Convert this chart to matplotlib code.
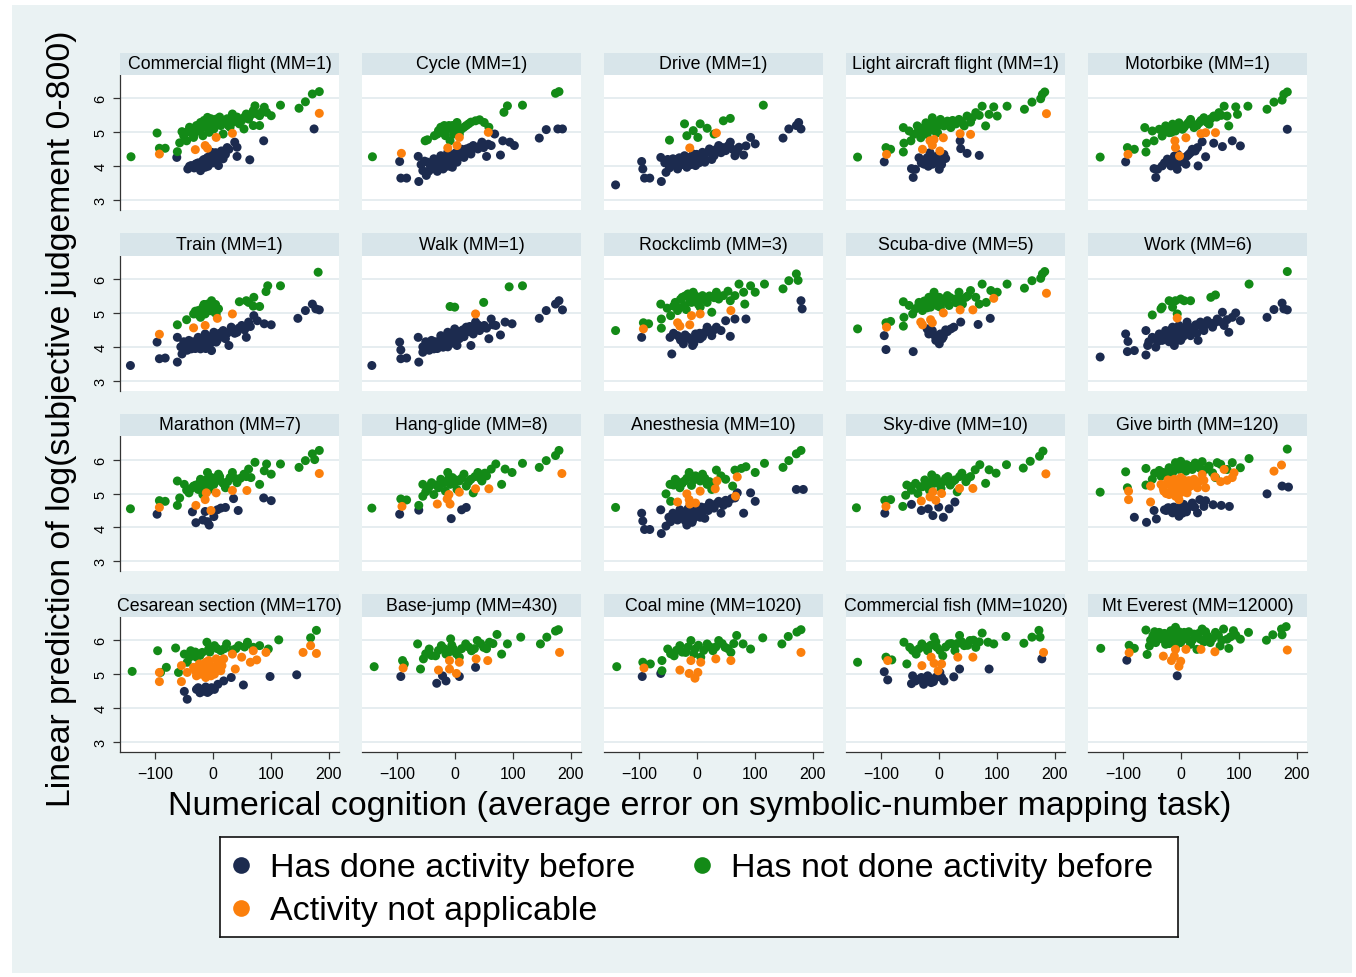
import matplotlib
matplotlib.use("Agg")
import matplotlib.pyplot as plt
from matplotlib.patches import Rectangle
from matplotlib.lines import Line2D

plt.rcParams['font.family'] = ['Liberation Sans', 'DejaVu Sans']

# ---------------- DATA (x = numerical cognition error, y = linear prediction) ----------------
titles = ["Commercial flight (MM=1)", "Cycle (MM=1)", "Drive (MM=1)", "Light aircraft flight (MM=1)",
          "Motorbike (MM=1)", "Train (MM=1)", "Walk (MM=1)", "Rockclimb (MM=3)", "Scuba-dive (MM=5)",
          "Work (MM=6)", "Marathon (MM=7)", "Hang-glide (MM=8)", "Anesthesia (MM=10)", "Sky-dive (MM=10)",
          "Give birth (MM=120)", "Cesarean section (MM=170)", "Base-jump (MM=430)", "Coal mine (MM=1020)",
          "Commercial fish (MM=1020)", "Mt Everest (MM=12000)"]
legend_labels = ["Has done activity before", "Has not done activity before", "Activity not applicable"]
x_ticks = [-100, 0, 100, 200]
y_ticks = [3, 4, 5, 6]

# 1 Commercial flight
cf_done = [(-62,4.26),(-43,3.92),(-37,4.02),(-29,4.07),(-21,3.87),(-17,4.17),(-13,3.97),(-9,4.26),(-6,4.07),(-2,4.41),
           (2,4.17),(6,4.31),(14,4.41),(18,4.22),(10,4.02),(38,4.71),(42,4.56),(42,4.29),(64,4.19),(88,4.75),(175,5.10),
           (-25,4.1),(-10,4.15),(0,4.3),(5,4.4),(-15,4.2),(10,4.35),(20,4.45),(25,4.55),
           (-40,4.0),(-32,3.95),(-27,4.0),(-20,4.05),(-12,4.1),(-5,4.2),(3,4.25),(8,4.2),(12,4.3),(15,4.45),(-3,4.35),
           (-18,3.95),(-8,4.0),(0,4.1),(22,4.35),(28,4.5)]
cf_not = [(-141,4.28),(-96,4.98),(-92,4.53),(-82,4.53),(-61,4.43),(-57,4.69),(-53,5.02),(-45,4.75),(-37,5.05),(-33,4.85),
          (-25,5.10),(-21,5.29),(-17,4.90),(-13,5.15),(-9,5.44),(-6,5.0),(-2,5.25),(2,5.10),(6,5.39),(14,5.2),(18,4.95),
          (22,5.29),(30,5.15),(34,5.54),(38,5.39),(46,5.25),(54,5.10),(58,5.54),(62,5.39),(70,5.64),(73,5.78),(81,5.49),
          (89,5.74),(93,5.59),(101,5.49),(117,5.80),(70,5.2),(81,5.2),(149,5.71),(160,5.90),(172,6.13),(184,6.20),
          (-45,5.0),(-40,5.15),(-30,5.0),(-28,5.2),(-20,5.1),(-15,5.35),(-10,5.2),(-5,5.15),(-3,5.4),(0,5.3),(5,5.2),
          (10,5.3),(12,5.45),(16,5.35),(25,5.4),(27,5.2),(35,5.3),(42,5.45),(50,5.35),(55,5.45),(65,5.5),(75,5.55),
          (85,5.6),(-50,4.9),(-35,4.95)]
cf_na = [(-92,4.36),(-30,4.49),(-13,4.61),(-9,4.53),(6,4.85),(34,4.97),(184,5.56)]

# 2 Cycle
cy_done = [(-95,4.14),(-93,3.65),(-83,3.65),(-62,3.55),(-63,4.29),(-55,3.87),(-49,3.73),(-47,4.12),(-40,3.92),(-36,4.22),
           (-30,4.02),(-24,4.31),(-20,3.92),(-16,4.12),(-12,4.41),(-8,4.22),(-4,3.97),(0,4.31),(4,4.12),(8,4.41),(16,4.26),
           (20,4.51),(28,4.36),(32,4.61),(40,4.51),(47,4.71),(55,4.29),(63,4.61),(69,4.95),(79,4.33),(83,4.75),(95,4.71),
           (103,4.61),(146,4.83),(158,5.08),(178,5.10),(186,5.10),
           (-58,4.05),(-52,4.15),(-45,3.85),(-42,4.0),(-38,4.1),(-33,4.15),(-28,3.95),(-26,4.2),(-22,4.1),(-18,4.25),
           (-14,4.0),(-10,4.3),(-6,4.1),(-2,4.2),(2,4.4),(6,4.25),(10,4.3),(12,4.5),(18,4.4),(24,4.45),(26,4.55),
           (35,4.55),(44,4.6),(50,4.55),(58,4.65),(-30,3.85),(-8,4.0),(-20,4.0)]
cy_not = [(-142,4.28),(-51,4.75),(-47,4.78),(-30,4.95),(-24,5.15),(-16,4.90),(-12,5.10),(-4,5.2),(0,5.05),(4,5.29),
          (8,4.95),(-8,4.75),(16,5.15),(24,5.25),(36,5.34),(43,5.37),(51,5.29),(59,5.15),(85,5.59),(91,5.78),(117,5.80),
          (174,6.15),(180,6.20),
          (-35,4.9),(-28,5.05),(-20,5.0),(-10,5.2),(-2,4.95),(5,5.1),(12,5.1),(20,5.2),(28,5.3),(-18,5.2)]
cy_na = [(-92,4.38),(-12,4.54),(4,4.61),(8,4.85),(58,5.0)]

# 3 Drive
dr_done = [(-140,3.45),(-95,4.14),(-93,3.92),(-90,3.65),(-81,3.65),(-61,3.55),(-62,4.26),(-53,3.82),(-45,4.02),(-41,4.22),
           (-33,3.92),(-29,4.12),(-21,4.31),(-17,3.97),(-12,4.17),(-6,4.36),(-2,4.02),(2,4.22),(10,4.41),(14,4.12),(22,4.51),
           (30,4.31),(38,4.61),(50,4.46),(58,4.71),(66,4.31),(73,4.56),(81,4.33),(93,4.85),(101,4.66),(149,4.83),(159,5.10),
           (172,5.2),(176,5.29),(180,5.10),
           (-55,4.1),(-50,4.2),(-47,3.95),(-38,4.05),(-35,4.2),(-30,4.25),(-25,4.05),(-20,4.15),(-15,4.25),(-10,4.05),
           (-8,4.3),(-4,4.2),(0,4.35),(4,4.1),(6,4.3),(12,4.25),(18,4.4),(25,4.45),(26,4.2),(34,4.5),(42,4.4),(45,4.55),
           (54,4.6),(62,4.5),(70,4.45),(85,4.6)]
dr_not = [(-47,4.77),(-21,5.25),(-17,4.90),(-6,5.05),(2,4.85),(6,5.25),(18,5.12),(30,4.95),(46,5.34),(58,5.41),(115,5.80)]
dr_na = [(-12,4.54),(34,4.98)]

# 4 Light aircraft flight
la_done = [(-94,4.13),(-47,3.93),(-44,3.67),(-40,3.91),(-34,4.25),(-25,4.06),(-20,4.25),(-15,4.40),(-11,4.06),(-5,4.21),
           (1,3.91),(3,4.11),(9,4.35),(12,4.23),(37,4.75),(38,4.52),(49,4.38),(70,4.32),
           (-30,4.1),(-22,4.15),(-18,4.0),(-8,4.1),(-2,4.3),(5,4.05),(7,4.2),(-12,4.3)]
la_not = [(-140,4.27),(-91,4.55),(-83,4.50),(-61,4.42),(-60,4.68),(-61,5.14),(-51,5.04),(-48,4.75),(-43,4.94),(-37,5.19),
          (-31,4.84),(-28,5.04),(-22,5.28),(-20,4.94),(-14,5.14),(-11,5.43),(-5,5.24),(-2,4.99),(3,5.38),(9,5.19),(15,5.33),
          (21,5.14),(26,5.28),(35,5.38),(44,5.19),(49,5.48),(58,5.43),(64,5.58),(75,5.77),(81,5.19),(87,5.53),(95,5.75),
          (101,5.48),(118,5.77),(148,5.68),(161,5.89),(176,5.99),(179,6.12),(183,6.19),
          (-35,5.05),(-25,5.15),(-18,5.1),(-10,5.25),(-8,5.05),(0,5.2),(5,5.3),(12,5.25),(18,5.2),(24,5.35),(30,5.25),
          (40,5.3),(55,5.3),(70,5.5)]
la_na = [(-90,4.35),(-28,4.50),(-15,4.75),(-11,4.62),(-8,4.79),(2,4.45),(8,4.84),(37,4.96),(55,4.94),(186,5.55)]

# 5 Motorbike
mb_done = [(-95,4.13),(-46,3.93),(-43,3.67),(-40,3.91),(-32,4.01),(-23,4.21),(-17,4.01),(-11,4.30),(-6,3.91),(-3,4.11),
           (3,4.25),(9,4.06),(14,4.35),(20,4.50),(29,4.55),(30,4.01),(37,4.72),(43,4.28),(57,4.68),(72,4.58),(89,4.75),
           (103,4.60),(184,5.09),
           (-28,4.1),(-20,4.15),(-14,4.1),(-8,4.2),(0,4.15),(6,4.2),(11,4.3),(17,4.4),(25,4.45),(-5,4.35)]
mb_not = [(-139,4.27),(-92,4.55),(-80,4.50),(-60,4.42),(-59,4.68),(-62,5.14),(-49,5.04),(-46,4.75),(-37,5.09),(-32,4.89),
          (-26,5.19),(-20,4.99),(-14,5.24),(-9,5.04),(-3,5.28),(3,5.09),(11,5.24),(17,5.38),(23,5.14),(32,5.28),(40,5.43),
          (49,5.24),(57,5.48),(66,5.58),(75,5.77),(83,5.19),(80,5.48),(95,5.75),(98,5.53),(116,5.77),(149,5.68),(161,5.89),
          (175,5.95),(178,6.12),(184,6.19),
          (-30,5.05),(-22,5.1),(-16,5.0),(-6,5.15),(0,5.2),(6,5.15),(14,5.3),(20,5.25),(28,5.2),(35,5.35),(45,5.3),
          (52,5.4),(62,5.45),(70,5.5)]
mb_na = [(-91,4.35),(-10,4.75),(-9,4.55),(-2,4.30),(9,4.84),(35,4.96),(43,4.99),(60,4.99)]

# 6 Train
tr_done = [(-142,3.45),(-96,4.14),(-92,3.65),(-82,3.67),(-61,3.55),(-61,4.28),(-53,3.79),(-47,4.04),(-41,4.19),(-37,3.94),
           (-29,4.09),(-25,4.28),(-21,3.94),(-17,4.14),(-13,4.38),(-9,4.04),(-6,4.24),(-2,3.89),(2,4.43),(6,4.14),(10,4.33),
           (18,4.48),(22,4.24),(28,4.04),(32,4.58),(42,4.43),(50,4.63),(58,4.28),(62,4.73),(71,4.92),(77,4.77),(89,4.68),
           (101,4.65),(147,4.84),(160,5.07),(172,5.26),(178,5.12),(184,5.09),
           (-55,4.0),(-50,4.15),(-44,3.9),(-39,4.05),(-33,4.15),(-27,4.0),(-23,4.2),(-19,4.05),(-15,4.25),(-11,4.15),
           (-7,4.3),(-4,4.1),(0,4.25),(4,4.3),(8,4.2),(12,4.4),(15,4.3),(20,4.35),(25,4.4),(35,4.5),(38,4.4),(45,4.55),
           (55,4.5),(65,4.6),(-30,3.95),(-12,3.95)]
tr_not = [(-61,4.65),(-45,4.80),(-33,4.97),(-25,5.07),(-21,4.87),(-17,5.17),(-13,4.97),(-9,5.26),(-6,5.07),(-2,5.36),
          (2,5.17),(6,4.97),(10,5.12),(46,5.33),(58,5.36),(62,5.31),(70,5.20),(71,5.46),(81,5.19),(92,5.63),(95,5.80),
          (117,5.80),(182,6.20),
          (-30,5.05),(-20,5.05),(-15,5.25),(-10,5.1),(-5,5.2),(0,5.05),(5,5.25),(-25,4.95)]
tr_na = [(-92,4.37),(-33,4.56),(-13,4.63),(8,4.84),(34,4.97)]

# 7 Walk
wk_done = [(-143,3.45),(-95,4.14),(-93,3.91),(-93,3.65),(-83,3.67),(-62,3.55),(-63,4.28),(-55,3.84),(-47,4.04),(-40,4.19),
           (-36,3.94),(-30,4.14),(-24,4.33),(-20,3.99),(-16,4.19),(-12,4.43),(-8,4.09),(-4,4.28),(0,4.53),(4,4.04),(8,4.24),
           (12,4.43),(20,4.58),(28,4.04),(32,4.38),(36,4.73),(43,4.48),(51,4.63),(59,4.24),(63,4.82),(71,4.63),(79,4.35),
           (87,4.73),(99,4.68),(146,4.84),(158,5.07),(174,5.26),(180,5.36),(186,5.09),
           (-55,4.0),(-50,4.15),(-44,3.9),(-38,4.05),(-33,4.15),(-27,4.0),(-22,4.2),(-18,4.05),(-14,4.3),(-10,4.2),
           (-6,4.35),(-2,4.15),(2,4.3),(6,4.45),(10,4.35),(14,4.5),(16,4.3),(24,4.45),(26,4.6),(38,4.55),(40,4.65),
           (48,4.6),(55,4.55),(66,4.65),(-30,3.95),(-12,4.0)]
wk_not = [(-8,5.19),(0,5.17),(50,5.31),(94,5.77),(117,5.80)]
wk_na = [(36,4.97)]

# 8 Rockclimb
rc_done = [(-95,4.28),(-43,3.79),(-46,4.28),(-33,4.33),(-23,4.09),(-15,4.28),(-7,4.04),(-2,4.38),(6,4.24),(14,4.43),
           (18,4.58),(26,4.33),(34,4.58),(42,4.48),(50,4.77),(58,4.31),(66,4.82),(85,4.82),(180,5.36),(182,5.12),
           (-40,4.4),(-28,4.2),(-20,4.35),(-10,4.2),(0,4.25),(5,4.4),(10,4.3),(20,4.45),(30,4.5),(-5,4.1)]
rc_not = [(-140,4.48),(-92,4.71),(-83,4.68),(-61,4.55),(-61,4.82),(-62,5.26),(-51,5.14),(-45,4.92),(-37,5.31),(-33,5.07),
          (-25,5.46),(-21,5.22),(-15,5.56),(-9,5.31),(-6,5.61),(1,5.41),(6,5.17),(10,5.51),(18,5.31),(26,5.02),(34,5.61),
          (38,5.41),(46,5.51),(54,5.64),(58,5.36),(66,5.51),(73,5.85),(81,5.61),(83,5.26),(93,5.80),(101,5.61),(117,5.85),
          (149,5.71),(159,5.95),(172,6.15),(175,5.96),
          (-30,5.15),(-28,5.4),(-20,5.5),(-18,5.1),(-12,5.4),(-4,5.35),(-2,5.5),(3,5.25),(8,5.4),(14,5.45),(22,5.5),
          (30,5.45),(-40,5.2)]
rc_na = [(-92,4.53),(-33,4.71),(-29,4.61),(-12,4.65),(-9,4.92),(6,4.97),(59,5.07)]

# 9 Scuba-dive
sc_done = [(-94,4.33),(-91,3.92),(-44,3.86),(-20,4.53),(-17,4.38),(-11,4.48),(-5,4.19),(1,4.09),(3,4.38),(6,4.24),
           (15,4.45),(21,4.53),(26,4.58),(38,4.73),(68,4.66),(89,4.84),
           (-15,4.45),(-8,4.35),(-2,4.3),(8,4.3),(12,4.5),(-18,4.5)]
sc_not = [(-140,4.53),(-91,4.71),(-83,4.75),(-61,4.61),(-60,4.87),(-61,5.33),(-51,5.22),(-45,4.97),(-40,5.12),(-34,5.31),
          (-28,5.07),(-22,5.26),(-17,5.46),(-14,5.17),(-8,5.61),(-5,5.31),(1,5.46),(3,5.17),(9,5.36),(15,5.51),(18,5.22),
          (29,5.41),(35,5.61),(41,5.26),(47,5.46),(55,5.66),(64,5.46),(70,5.26),(75,5.85),(82,5.31),(90,5.66),(101,5.61),
          (118,5.85),(148,5.73),(161,5.95),(176,6.02),(179,6.15),(183,6.22),
          (-25,5.35),(-20,5.15),(-12,5.35),(-10,5.5),(-2,5.4),(-1,5.2),(5,5.3),(12,5.4),(20,5.45),(30,5.3),(40,5.4),
          (50,5.5),(-35,5.2)]
sc_na = [(-90,4.58),(-31,4.73),(-28,4.65),(-14,4.80),(-11,4.71),(8,5.0),(37,5.09),(59,5.09),(95,5.43),(186,5.58)]

# 10 Work
wo_done = [(-139,3.70),(-95,4.38),(-91,4.16),(-92,3.86),(-80,3.89),(-60,3.76),(-60,4.48),(-57,4.04),(-49,4.28),(-43,3.99),
           (-37,4.38),(-32,4.19),(-26,4.48),(-20,4.24),(-14,4.58),(-11,4.04),(-9,4.38),(-3,4.63),(0,4.19),(6,4.48),(11,4.73),
           (17,4.33),(23,4.58),(30,4.19),(34,4.73),(40,4.48),(46,4.77),(55,4.58),(63,4.82),(72,5.02),(75,4.63),(83,4.43),
           (89,4.87),(95,5.0),(103,4.77),(149,4.87),(161,5.10),(175,5.29),(178,5.12),(184,5.09),
           (-55,4.15),(-45,4.25),(-40,4.15),(-35,4.3),(-28,4.3),(-24,4.4),(-18,4.35),(-16,4.5),(-12,4.3),(-7,4.5),
           (-5,4.25),(-1,4.4),(3,4.55),(4,4.3),(9,4.45),(13,4.6),(15,4.4),(20,4.5),(26,4.65),(28,4.4),(36,4.6),(43,4.65),
           (50,4.7),(58,4.7),(67,4.75),(80,4.8),(-10,4.15),(-20,4.15)]
wo_not = [(-49,4.94),(-34,5.12),(-32,5.17),(-20,5.36),(-14,5.17),(-9,5.36),(-6,4.97),(0,5.41),(6,5.36),(17,5.36),
          (52,5.46),(60,5.53),(118,5.85),(184,6.22)]
wo_na = [(-6,4.85)]

# 11 Marathon
ma_done = [(-96,4.39),(-35,4.46),(-29,4.14),(-17,4.22),(-13,4.47),(-9,4.17),(-6,4.07),(2,4.32),(8,4.52),(14,4.57),
           (22,4.59),(36,4.85),(44,4.50),(88,4.87),(101,4.79)]
ma_not = [(-142,4.55),(-92,4.79),(-82,4.77),(-61,4.65),(-61,5.37),(-57,4.87),(-49,5.27),(-41,5.02),(-33,5.22),(-25,5.12),
          (-21,5.42),(-17,4.97),(-13,5.27),(-9,5.62),(-6,5.12),(-2,5.47),(2,5.27),(10,5.57),(14,5.37),(22,5.17),(30,5.47),
          (34,5.62),(42,5.32),(54,5.57),(62,5.72),(66,5.47),(73,5.92),(81,5.27),(89,5.67),(93,5.87),(101,5.57),(117,5.87),
          (149,5.77),(160,5.97),(172,6.17),(176,6.0),(184,6.27),
          (-45,5.1),(-37,5.15),(-29,5.25),(-23,5.3),(-15,5.15),(-11,5.4),(-4,5.3),(0,5.35),(6,5.4),(12,5.5),(18,5.3),
          (26,5.35),(38,5.45),(48,5.45),(58,5.5)]
ma_na = [(-92,4.59),(-29,4.65),(-13,4.82),(-11,5.02),(-3,4.50),(6,5.02),(34,5.09),(59,5.09),(184,5.59)]

# 12 Hang-glide
hg_done = [(-95,4.39),(-62,4.51),(-6,4.26),(12,4.52),(20,4.59)]
hg_not = [(-143,4.57),(-93,4.84),(-83,4.81),(-62,4.65),(-55,4.92),(-55,5.27),(-47,5.12),(-40,5.32),(-36,4.97),(-28,5.17),
          (-24,5.42),(-16,5.07),(-12,5.62),(-8,5.27),(-4,5.47),(4,5.12),(8,5.37),(16,5.57),(20,5.22),(28,5.42),(32,5.02),
          (40,5.62),(47,5.37),(55,5.52),(63,5.72),(71,5.87),(81,5.27),(87,5.72),(99,5.62),(117,5.89),(146,5.77),(158,5.97),
          (174,6.12),(180,6.27),
          (-50,5.05),(-44,5.2),(-32,5.25),(-20,5.3),(-14,5.35),(-10,5.45),(-2,5.3),(2,5.4),(12,5.45),(24,5.35),(35,5.5),
          (44,5.45),(52,5.6)]
hg_na = [(-91,4.62),(-30,4.69),(-13,4.84),(-10,4.97),(-8,4.69),(8,5.04),(36,5.14),(59,5.14),(185,5.59)]

# 13 Anesthesia
an_done = [(-95,4.42),(-93,4.19),(-90,3.94),(-81,3.94),(-61,3.82),(-62,4.52),(-53,4.04),(-45,4.17),(-41,4.42),(-33,4.22),
           (-29,4.52),(-21,4.32),(-17,4.07),(-12,4.47),(-7,4.22),(-2,4.62),(2,4.37),(10,4.57),(14,4.27),(22,4.72),(30,4.57),
           (38,4.77),(42,4.42),(54,4.72),(66,4.87),(70,5.02),(81,4.42),(93,5.02),(101,4.77),(172,5.12),(184,5.12),
           (-48,4.3),(-38,4.3),(-30,4.35),(-25,4.42),(-18,4.4),(-14,4.25),(-10,4.35),(-5,4.45),(-4,4.3),(0,4.5),
           (4,4.45),(6,4.3),(8,4.6),(12,4.5),(17,4.6),(20,4.5),(26,4.65),(34,4.7),(46,4.65),(50,4.8),(60,4.85),
           (-20,4.2),(-8,4.15),(-15,4.55)]
an_not = [(-140,4.59),(-53,4.99),(-45,4.77),(-46,5.27),(-37,5.42),(-29,5.17),(-21,5.37),(-13,5.62),(-9,5.24),(-2,5.52),
          (6,5.37),(10,5.57),(18,5.27),(26,5.12),(34,5.69),(42,5.52),(50,5.42),(62,5.22),(66,5.69),(77,5.74),(85,5.79),
          (101,5.62),(117,5.89),(149,5.77),(159,5.97),(172,6.17),(180,6.27),
          (-40,5.25),(-33,5.35),(-25,5.3),(-17,5.45),(-5,5.4),(2,5.45),(14,5.45),(22,5.35),(30,5.25)]
an_na = [(-33,4.75),(-17,4.99),(-13,4.82),(-12,4.69),(-2,4.72),(6,5.07),(32,5.14),(35,5.37),(70,5.49),(67,4.92)]

# 14 Sky-dive
sd_done = [(-93,4.42),(-47,4.68),(-30,4.50),(-18,4.55),(-10,4.35),(0,4.60),(8,4.30),(18,4.55),(28,4.75)]
sd_not = [(-142,4.58),(-93,4.80),(-83,4.82),(-62,4.62),(-57,4.95),(-55,5.25),(-47,5.10),(-40,5.30),(-36,5.0),(-28,5.2),
          (-24,5.4),(-16,5.1),(-12,5.55),(-8,5.3),(-4,5.45),(4,5.15),(8,5.35),(16,5.5),(20,5.25),(28,5.4),(32,5.05),
          (40,5.6),(47,5.35),(55,5.5),(63,5.7),(71,5.85),(81,5.3),(87,5.7),(99,5.6),(117,5.85),(146,5.75),(158,5.95),
          (174,6.1),(180,6.25),
          (-48,5.2),(-32,5.2),(-20,5.3),(-10,5.4),(0,5.3),(12,5.45),(24,5.35),(36,5.5),(50,5.45)]
sd_na = [(-91,4.62),(-30,4.78),(-15,4.9),(-10,5.05),(-5,4.8),(5,5.0),(36,5.15),(59,5.15),(185,5.58)]

# 15 Give birth
gb_done = [(-80,4.30),(-59,4.15),(-46,4.50),(-42,4.25),(-28,4.52),(-20,4.57),(-14,4.43),(-9,4.57),(-3,4.33),(0,4.52),
           (6,4.62),(10,4.46),(20,4.72),(29,4.43),(33,4.82),(40,4.62),(43,4.79),(56,4.67),(70,4.65),(84,4.62),(149,4.99),
           (175,5.22),(186,5.19),
           (-25,4.5),(-17,4.5),(-12,4.6),(-6,4.45),(-1,4.6),(3,4.42),(8,4.55),(14,4.6),(24,4.6),(-22,4.58),(5,4.68)]
gb_not = [(-139,5.04),(-95,5.64),(-92,5.17),(-60,5.74),(-60,5.25),(-49,5.42),(-37,5.68),(-34,5.51),(-26,5.56),(-20,5.76),
          (-14,5.61),(-9,5.91),(-3,5.71),(3,5.86),(9,5.66),(14,5.81),(20,5.71),(29,5.81),(37,5.94),(43,5.71),(49,5.81),
          (55,5.61),(60,5.47),(63,5.91),(69,5.86),(80,5.71),(89,5.91),(103,5.76),(118,6.03),(184,6.31),
          (-45,5.6),(-30,5.62),(-5,5.8),(0,5.95),(10,5.85),(25,5.9),(33,5.75),(-17,5.7)]
gb_na = [(-90,5.07),(-90,4.82),(-52,5.22),(-52,4.75),(-34,5.27),(-29,5.07),(-23,5.32),(-20,4.97),(-14,5.17),(-11,5.42),
         (-9,4.92),(-6,5.22),(-3,4.82),(0,5.47),(3,5.12),(9,5.32),(11,5.02),(17,5.22),(23,5.42),(29,5.17),(37,5.56),
         (43,5.17),(40,5.39),(59,5.49),(69,5.35),(75,5.71),(80,5.39),(89,5.47),(92,5.61),(161,5.66),(174,5.84),
         (-30,5.15),(-25,5.0),(-18,5.25),(-16,5.05),(-12,5.3),(-8,5.1),(-4,5.35),(-2,5.0),(2,5.25),(5,5.4),(6,5.05),
         (12,5.15),(14,5.38),(20,5.3),(25,5.25),(32,5.35),(-22,5.4),(-6,4.98),(7,5.2)]

# 16 Cesarean section
cs_done = [(-49,4.49),(-44,4.26),(-28,4.55),(-18,4.50),(-9,4.46),(-2,4.60),(9,4.70),(19,4.80),(32,4.90),(53,4.68),
           (99,4.93),(145,4.98),
           (-22,4.45),(-14,4.5),(-6,4.5),(3,4.55),(-25,4.6),(-12,4.62)]
cs_not = [(-139,5.08),(-95,5.69),(-90,5.05),(-80,5.20),(-64,5.77),(-59,5.05),(-49,5.59),(-44,5.35),(-38,5.69),(-28,5.50),
          (-18,5.64),(-10,5.94),(-7,5.74),(3,5.84),(14,5.69),(24,5.89),(34,5.71),(45,5.84),(60,5.94),(70,5.79),(81,5.84),
          (96,5.74),(114,6.01),(169,6.07),(179,6.29),
          (-30,5.65),(-22,5.55),(-5,5.65),(8,5.75),(20,5.75),(40,5.75),(55,5.8),(-40,5.5)]
cs_na = [(-92,5.05),(-92,4.78),(-54,5.25),(-54,4.78),(-44,5.05),(-33,5.20),(-28,4.95),(-23,5.30),(-18,5.10),(-12,4.90),
         (-7,5.40),(-2,5.15),(3,5.0),(9,5.30),(14,5.10),(19,5.45),(34,5.59),(39,5.15),(50,5.50),(65,5.35),(70,5.69),
         (76,5.42),(92,5.64),(156,5.64),(169,5.84),(179,5.61),
         (-30,5.1),(-25,5.2),(-20,5.0),(-15,5.2),(-10,5.05),(-5,5.3),(0,5.05),(5,5.2),(10,5.4),(-12,5.35),(16,5.25),
         (-3,4.95),(6,5.45)]

# 17 Base-jump
bj_done = [(-93,4.93),(-31,4.73),(-21,4.95),(-15,4.80),(8,4.93),(36,5.20)]
bj_not = [(-139,5.22),(-90,5.40),(-87,5.30),(-59,5.15),(-64,5.89),(-54,5.45),(-44,5.74),(-33,5.54),(-23,5.84),(-15,5.59),
          (-7,6.04),(-2,5.74),(8,5.50),(19,5.89),(29,5.69),(39,5.99),(50,5.79),(60,5.94),(73,6.17),(81,5.59),(91,5.89),
          (114,6.09),(148,5.89),(159,6.09),(174,6.27),(179,6.31),
          (-50,5.6),(-40,5.55),(-28,5.7),(-18,5.75),(-10,5.65),(-5,5.85),(3,5.6),(12,5.75),(24,5.8),(34,5.75),(45,5.9),
          (55,5.75),(66,5.9)]
bj_na = [(-89,5.18),(-28,5.12),(-9,5.40),(-9,5.15),(3,5.02),(8,5.35),(37,5.45),(57,5.40),(181,5.64)]

# 18 Coal mine
cm_done = [(-94,4.93),(-62,5.02)]
cm_not = [(-138,5.22),(-93,5.35),(-80,5.30),(-60,5.10),(-60,5.40),(-50,5.74),(-39,5.54),(-29,5.84),(-19,5.64),(-10,5.99),
          (-3,5.74),(7,5.50),(18,5.89),(28,5.69),(38,5.99),(49,5.79),(59,5.64),(69,6.14),(80,5.89),(93,5.74),(114,6.07),
          (147,5.89),(158,6.11),(173,6.24),(180,6.31),
          (-45,5.6),(-35,5.7),(-25,5.65),(-15,5.8),(-5,5.6),(3,5.85),(12,5.7),(23,5.8),(33,5.8),(44,5.9),(54,5.75),(64,5.9)]
cm_na = [(-91,5.18),(-29,5.12),(-13,5.02),(-10,5.40),(-3,4.88),(2,5.05),(7,5.35),(33,5.45),(59,5.40),(180,5.64)]

# 19 Commercial fish
fi_done = [(-94,5.07),(-88,4.83),(-47,4.72),(-45,4.95),(-34,4.85),(-26,4.70),(-19,4.95),(-13,4.75),(-5,4.90),(2,5.05),
           (9,4.80),(26,4.92),(36,5.15),(87,5.15),(178,5.45),
           (-40,4.8),(-30,4.9),(-22,4.82),(-16,4.88),(-9,4.78),(-2,4.95),(5,4.9)]
fi_not = [(-140,5.35),(-91,5.50),(-81,5.42),(-60,5.94),(-55,5.30),(-50,5.79),(-39,5.59),(-29,5.89),(-19,5.69),(-8,6.09),
          (-3,5.79),(7,5.54),(18,5.89),(28,5.69),(36,6.14),(44,5.84),(54,5.99),(64,5.79),(75,6.21),(85,5.94),(95,5.89),
          (116,6.11),(147,5.91),(161,6.09),(173,6.29),(175,6.09),
          (-45,5.7),(-34,5.75),(-24,5.8),(-14,5.85),(-5,5.95),(2,5.7),(12,5.8),(22,5.9),(32,5.9),(40,5.95),(50,5.85),
          (60,6.0),(70,5.95)]
fi_na = [(-88,5.40),(-29,5.25),(-13,5.50),(-8,5.32),(-1,5.10),(5,5.30),(33,5.50),(59,5.50),(181,5.64)]

# 20 Mt Everest
me_done = [(-93,5.41),(-6,4.95)]
me_not = [(-138,5.76),(-89,5.85),(-80,5.76),(-58,5.58),(-60,6.30),(-54,5.83),(-48,6.13),(-43,5.93),(-37,6.23),(-31,6.03),
          (-26,5.88),(-20,6.18),(-14,5.98),(-9,6.38),(-6,6.13),(0,5.93),(6,6.23),(11,6.03),(17,5.88),(23,6.18),(28,5.73),
          (34,6.03),(37,6.33),(46,6.13),(51,5.93),(60,6.23),(68,5.83),(74,6.33),(80,6.03),(83,5.76),(91,6.28),(103,6.03),
          (117,6.23),(148,6.0),(159,6.16),(174,6.33),(175,6.16),(182,6.40),
          (-52,6.0),(-45,6.25),(-40,6.05),(-33,6.1),(-28,6.2),(-23,6.0),(-17,6.28),(-12,6.1),(-3,6.25),(3,6.05),(8,6.15),
          (14,6.25),(20,6.0),(26,6.1),(31,6.2),(40,5.95),(43,6.25),(55,6.05),(65,6.15),(71,6.0),(86,6.1),(95,6.15),
          (-8,5.85),(-20,5.9)]
me_na = [(-89,5.63),(-30,5.53),(-16,5.40),(-11,5.53),(-9,5.73),(-3,5.23),(0,5.38),(9,5.73),(35,5.73),(59,5.66),(184,5.71)]

done_sets = [cf_done, cy_done, dr_done, la_done, mb_done, tr_done, wk_done, rc_done, sc_done, wo_done,
             ma_done, hg_done, an_done, sd_done, gb_done, cs_done, bj_done, cm_done, fi_done, me_done]
not_sets = [cf_not, cy_not, dr_not, la_not, mb_not, tr_not, wk_not, rc_not, sc_not, wo_not,
            ma_not, hg_not, an_not, sd_not, gb_not, cs_not, bj_not, cm_not, fi_not, me_not]
na_sets = [cf_na, cy_na, dr_na, la_na, mb_na, tr_na, wk_na, rc_na, sc_na, wo_na,
           ma_na, hg_na, an_na, sd_na, gb_na, cs_na, bj_na, cm_na, fi_na, me_na]

# ---------------- STYLE ----------------
W, H = 1356, 978
C_DONE = "#1c2b4f"
C_NOT = "#138a17"
C_NA = "#fb7f0c"
BG = "#eaf2f3"
STRIP = "#d8e5ea"
GRID = "#e4ecef"
AXC = "#333333"
MS = 42

fig = plt.figure(figsize=(W / 100, H / 100), dpi=100, facecolor="white")
fig.add_artist(Rectangle((12 / W, 1 - 974 / H), (1352 - 12) / W, (974 - 6) / H,
                         transform=fig.transFigure, facecolor=BG, edgecolor="none", zorder=0))

PW, PH = 219, 135
for i, title in enumerate(titles):
    r, c = divmod(i, 5)
    left = 120 + 242 * c
    top = 76 + 180.6 * r
    ax = fig.add_axes([left / W, 1 - (top + PH) / H, PW / W, PH / H])
    ax.set_facecolor("white")
    ax.set_xlim(-160, 218)
    ax.set_ylim(2.71, 6.69)
    for yv in y_ticks:
        ax.axhline(yv, color=GRID, lw=1.3, zorder=1)
    for pts, col in ((done_sets[i], C_DONE), (not_sets[i], C_NOT), (na_sets[i], C_NA)):
        xs = [p[0] for p in pts]
        ys = [p[1] for p in pts]
        ax.scatter(xs, ys, s=MS, color=col, edgecolors="none", zorder=3)
    for s in ("top", "right"):
        ax.spines[s].set_visible(False)
    ax.spines["left"].set_visible(c == 0)
    ax.spines["bottom"].set_visible(r == 3)
    for s in ("left", "bottom"):
        ax.spines[s].set_color(AXC)
        ax.spines[s].set_linewidth(0.9)
    ax.set_yticks(y_ticks)
    ax.set_xticks(x_ticks)
    if c == 0:
        ax.tick_params(axis="y", length=5, width=0.9, color=AXC, labelsize=10.5, pad=4)
        for lab in ax.get_yticklabels():
            lab.set_rotation(90)
            lab.set_va("center")
    else:
        ax.tick_params(axis="y", left=False, labelleft=False)
    if r == 3:
        ax.tick_params(axis="x", length=5, width=0.9, color=AXC, labelsize=11.5, pad=5)
    else:
        ax.tick_params(axis="x", bottom=False, labelbottom=False)
    # title strip
    fig.add_artist(Rectangle((left / W, 1 - top / H), PW / W, 22.5 / H,
                             transform=fig.transFigure, facecolor=STRIP, edgecolor="none", zorder=1))
    fig.text((left + PW / 2) / W, 1 - (top - 11.5) / H, title, ha="center", va="center", fontsize=12.8)

fig.text(62 / W, 1 - 419 / H, "Linear prediction of log(subjective judgement 0-800)",
         rotation=90, ha="center", va="center", fontsize=24.3)
fig.text(700 / W, 1 - 807 / H, "Numerical cognition (average error on symbolic-number mapping task)",
         ha="center", va="center", fontsize=24.5)

# legend
lx0, ly0, lx1, ly1 = 220, 838, 1178, 938
lax = fig.add_axes([lx0 / W, 1 - ly1 / H, (lx1 - lx0) / W, (ly1 - ly0) / H])
lax.set_xlim(lx0, lx1)
lax.set_ylim(ly1, ly0)
lax.set_xticks([])
lax.set_yticks([])
lax.set_facecolor("white")
for s in lax.spines.values():
    s.set_color("#111111")
    s.set_linewidth(1.2)
entries = [(241, 866, C_DONE, legend_labels[0]), (702, 866, C_NOT, legend_labels[1]),
           (241, 909, C_NA, legend_labels[2])]
for x0, y0, col, lab in entries:
    lax.add_line(Line2D([x0], [y0], marker="o", markersize=12, color=col, markeredgewidth=0, linestyle="none"))
    lax.text(x0 + 29, y0 + 3, lab, ha="left", va="center", fontsize=24.5)

fig.savefig("out.png", dpi=100, facecolor="white")
